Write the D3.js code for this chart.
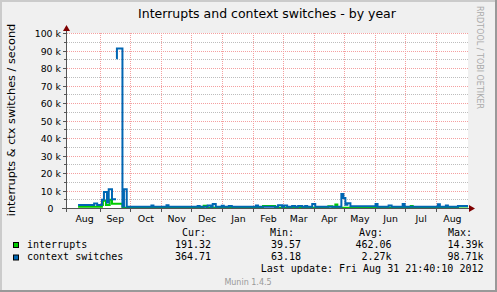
<!DOCTYPE html>
<html><head><meta charset="utf-8">
<script src="https://cdn.jsdelivr.net/npm/d3@7"></script>
<style>html,body{margin:0;padding:0;background:#f0f0f0;}svg{display:block}</style>
</head><body><svg id="c" width="497" height="292"></svg>
<script>
const monthStarts = ["2011-08-01","2011-09-01","2011-10-01","2011-11-01","2011-12-01","2012-01-01","2012-02-01","2012-03-01","2012-04-01","2012-05-01","2012-06-01","2012-07-01","2012-08-01","2012-09-01"];
const monthLabels = ["Aug","Sep","Oct","Nov","Dec","Jan","Feb","Mar","Apr","May","Jun","Jul","Aug"];
const yTicks = [0,10000,20000,30000,40000,50000,60000,70000,80000,90000,100000];
const yTickLabels = ["0","10 k","20 k","30 k","40 k","50 k","60 k","70 k","80 k","90 k","100 k"];
const yMinorTicks = [5000,15000,25000,35000,45000,55000,65000,75000,85000,95000];

const interruptDates = ["2011-08-10","2011-09-02T18:00","2011-09-03T18:00","2011-09-06T18:00","2011-09-10T12:00","2011-09-12T18:00","2011-09-23T04:00",
  "2011-12-13","2011-12-16","2012-02-10","2012-02-22","2012-04-15","2012-04-19","2012-04-22","2012-04-24","2012-07-06","2012-07-08","2012-08-22","2012-09-01"];
const interruptValues = [1000,2000,4500,2000,5000,2700,400,
  1600,400,1400,400,1300,400,2300,400,1500,400,1100,1100];

const ctxDates = ["2011-08-10","2011-08-26","2011-08-29","2011-09-02T18:00","2011-09-04T18:00","2011-09-07T18:00","2011-09-09T12:00","2011-09-12T18:00","2011-09-16T18:00","2011-09-16T19:00","2011-09-16T20:00","2011-09-17T16:00","2011-09-23T04:00","2011-09-24T16:00","2011-09-27T10:00",
  "2011-10-22","2011-10-24","2011-11-06","2011-11-08","2011-12-07","2011-12-09","2011-12-17","2011-12-20","2011-12-22","2011-12-25","2011-12-31","2012-01-02","2012-01-07","2012-01-10",
  "2012-02-03","2012-02-05","2012-02-25","2012-02-29","2012-03-02","2012-03-05","2012-03-10","2012-03-13","2012-03-16","2012-03-20","2012-03-23","2012-03-25","2012-03-30","2012-04-02",
  "2012-04-28","2012-04-30","2012-05-02","2012-05-04","2012-05-07","2012-06-01","2012-06-03","2012-06-14","2012-06-17","2012-06-28","2012-06-30",
  "2012-08-02","2012-08-04","2012-08-10","2012-08-12","2012-08-22","2012-09-01"];
const ctxValues = [2000,2900,2000,5000,9500,3500,11000,5300,5300,null,85800,91500,1200,11000,1000,
  1700,1000,1800,1000,1500,1000,1700,1000,2600,1000,1600,1000,1500,1000,
  1700,1000,1800,1000,1700,1000,1500,1000,1400,1000,1500,1000,2600,1000,
  8300,6000,2200,3000,1300,2600,1000,1700,1000,2600,1000,
  2500,1000,1700,1000,1400,1400];

const seriesNames = ["interrupts","context switches"];
const curValues = ["191.32","364.71"];
const minValues = ["39.57","63.18"];
const avgValues = ["462.06","2.27k"];
const maxValues = ["14.39k","98.71k"];
const colors = ["#00cc00","#0066b3"];

const parse = s => new Date(s.length === 10 ? s + "T00:00" : s);
const svg = d3.select("#c");
const W = 497, H = 292;

// background + frame
svg.append("rect").attr("x",0).attr("y",0).attr("width",W).attr("height",H).attr("fill","#f0f0f0");
svg.append("rect").attr("x",0).attr("y",0).attr("width",W).attr("height",2).attr("fill","#cbcbcb");
svg.append("rect").attr("x",0).attr("y",0).attr("width",2).attr("height",H).attr("fill","#cbcbcb");
svg.append("rect").attr("x",0).attr("y",H-2).attr("width",W).attr("height",2).attr("fill","#999999");
svg.append("rect").attr("x",W-2).attr("y",0).attr("width",2).attr("height",H).attr("fill","#999999");

const x = d3.scaleTime().domain([parse("2011-07-29"), parse("2012-09-01")]).range([66, 468]);
const y = d3.scaleLinear().domain([0, 100000]).range([208.5, 33.5]);

svg.append("rect").attr("x",67).attr("y",33).attr("width",401).attr("height",175).attr("fill","#ffffff");

const px = v => Math.floor(v) + 0.5;

// minor grid
svg.append("g").selectAll("line").data(yMinorTicks).join("line")
  .attr("x1",67).attr("x2",468).attr("y1",d=>px(y(d))).attr("y2",d=>px(y(d)))
  .attr("stroke","#bdbdbd").attr("stroke-dasharray","1,1");
// major grid
svg.append("g").selectAll("line").data(yTicks.slice(1)).join("line")
  .attr("x1",67).attr("x2",468).attr("y1",d=>px(y(d))).attr("y2",d=>px(y(d)))
  .attr("stroke","#f4a0a0").attr("stroke-dasharray","1,1");
const gridMonths = monthStarts.slice(1, 13).map(parse);
svg.append("g").selectAll("line").data(gridMonths).join("line")
  .attr("x1",d=>px(x(d))).attr("x2",d=>px(x(d))).attr("y1",33).attr("y2",208)
  .attr("stroke","#f4a0a0").attr("stroke-dasharray","1,1");

// data
function mk(dates, vals){ return dates.map((d,i)=>({t:parse(d), v:vals[i]})); }
const line = d3.line().defined(d=>d.v!=null).x(d=>x(d.t)).y(d=>y(d.v)).curve(d3.curveStepAfter);
svg.append("path").datum(mk(interruptDates, interruptValues)).attr("d", line)
  .attr("fill","none").attr("stroke",colors[0]).attr("stroke-width",2);
svg.append("path").datum(mk(ctxDates, ctxValues)).attr("d", line)
  .attr("fill","none").attr("stroke",colors[1]).attr("stroke-width",2);

// axes
const axisCol = "#555555";
svg.append("line").attr("x1",62).attr("x2",470).attr("y1",208.5).attr("y2",208.5).attr("stroke",axisCol);
svg.append("line").attr("x1",66.5).attr("x2",66.5).attr("y1",212).attr("y2",30).attr("stroke",axisCol);
svg.append("path").attr("d","M469,205L469,212L475,208.5Z").attr("fill","#7f0000");
svg.append("path").attr("d","M63,31L70,31L66.5,25Z").attr("fill","#7f0000");
svg.append("g").selectAll("line").data(yTicks).join("line")
  .attr("x1",63).attr("x2",66).attr("y1",d=>px(y(d))).attr("y2",d=>px(y(d))).attr("stroke",axisCol);
svg.append("g").selectAll("line").data(yMinorTicks).join("line")
  .attr("x1",64).attr("x2",66).attr("y1",d=>px(y(d))).attr("y2",d=>px(y(d))).attr("stroke",axisCol);
svg.append("g").selectAll("line").data(gridMonths).join("line")
  .attr("x1",d=>px(x(d))).attr("x2",d=>px(x(d))).attr("y1",209).attr("y2",212).attr("stroke",axisCol);

// y tick labels
svg.append("g").selectAll("text").data(yTicks).join("text")
  .attr("x",(d,i)=> i===0 ? 53.5 : 61).attr("y",d=>y(d)+3.5)
  .attr("text-anchor","end").attr("font-family","DejaVu Sans").attr("font-size","9.4px").attr("fill","#000")
  .text((d,i)=>yTickLabels[i]);

// month labels
svg.append("g").selectAll("text").data(monthLabels).join("text")
  .attr("x",(d,i)=>{ const a=parse(monthStarts[i]), b=parse(monthStarts[i+1]); return x(new Date((+a + +b)/2)); })
  .attr("y",222).attr("text-anchor","middle").attr("font-family","DejaVu Sans").attr("font-size","9.4px").attr("fill","#000")
  .text(d=>d);

// title
svg.append("text").attr("x",267).attr("y",18.4).attr("text-anchor","middle")
  .attr("font-family","DejaVu Sans").attr("font-size","12.5px").attr("fill","#000")
  .text("Interrupts and context switches - by year");

// y label
svg.append("text").attr("transform","translate(15,120) rotate(-90)").attr("text-anchor","middle")
  .attr("font-family","DejaVu Sans").attr("font-size","11.3px").attr("fill","#000")
  .text("interrupts & ctx switches / second");

// watermark
svg.append("text").attr("transform","translate(477,6) rotate(90)").attr("text-anchor","start")
  .attr("font-family","DejaVu Sans").attr("font-size","8px").attr("fill","#aaaaaa")
  .text("RRDTOOL / TOBI OETIKER");

// legend
const mono = "DejaVu Sans Mono";
const lg = svg.append("g").attr("font-family",mono).attr("font-size","10px").attr("fill","#000");
lg.append("text").attr("x",182).attr("y",235.5).text("Cur:");
lg.append("text").attr("x",270).attr("y",235.5).text("Min:");
lg.append("text").attr("x",359).attr("y",235.5).text("Avg:");
lg.append("text").attr("x",448).attr("y",235.5).text("Max:");
seriesNames.forEach((n,i)=>{
  const by = 247.8 + i*12.4;
  lg.append("rect").attr("x",13.5).attr("y",242.5+i*12.5).attr("width",5).attr("height",5)
    .attr("fill",colors[i]).attr("stroke","#000").attr("stroke-width",1);
  lg.append("text").attr("x",27).attr("y",by).text(n);
  lg.append("text").attr("x",211).attr("y",by).attr("text-anchor","end").text(curValues[i]);
  lg.append("text").attr("x",301).attr("y",by).attr("text-anchor","end").text(minValues[i]);
  lg.append("text").attr("x",391.5).attr("y",by).attr("text-anchor","end").text(avgValues[i]);
  lg.append("text").attr("x",483.5).attr("y",by).attr("text-anchor","end").text(maxValues[i]);
});
lg.append("text").attr("x",483.5).attr("y",271.8).attr("text-anchor","end").text("Last update: Fri Aug 31 21:40:10 2012");

svg.append("text").attr("x",248).attr("y",284.5).attr("text-anchor","middle")
  .attr("font-family","DejaVu Sans").attr("font-size","8px").attr("fill","#999999").text("Munin 1.4.5");
</script></body></html>
